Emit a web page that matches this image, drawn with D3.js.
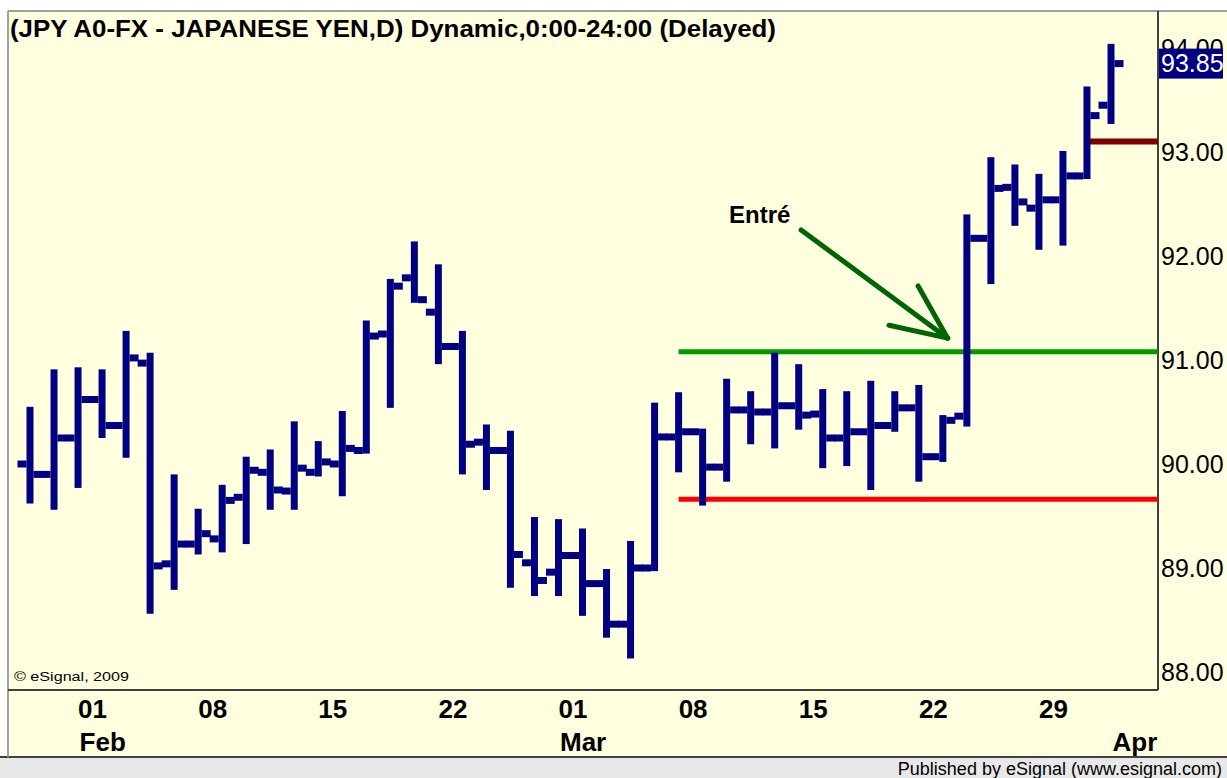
<!DOCTYPE html>
<html><head><meta charset="utf-8">
<script src="https://cdn.jsdelivr.net/npm/d3@7"></script>
<style>html,body{margin:0;padding:0;background:#fff;} svg{display:block}</style>
</head><body><svg id="c" width="1227" height="778"></svg>
<script>
// ---- data ----
const dates = ["2009-01-28","2009-01-29","2009-01-30",
 "2009-02-02","2009-02-03","2009-02-04","2009-02-05","2009-02-06",
 "2009-02-09","2009-02-10","2009-02-11","2009-02-12","2009-02-13",
 "2009-02-16","2009-02-17","2009-02-18","2009-02-19","2009-02-20",
 "2009-02-23","2009-02-24","2009-02-25","2009-02-26","2009-02-27",
 "2009-03-02","2009-03-03","2009-03-04","2009-03-05","2009-03-06",
 "2009-03-09","2009-03-10","2009-03-11","2009-03-12","2009-03-13",
 "2009-03-16","2009-03-17","2009-03-18","2009-03-19","2009-03-20",
 "2009-03-23","2009-03-24","2009-03-25","2009-03-26","2009-03-27",
 "2009-03-30","2009-03-31","2009-04-01"];
const openV  = [90.00,89.90,90.25,90.62,90.37,90.97,89.04,89.23,89.28,89.68,89.92,89.74,89.92,90.00,90.13,91.25,91.79,91.46,91.13,90.21,90.13,89.05,88.96,89.12,88.85,88.46,89.00,90.26,90.31,89.97,90.52,90.50,90.56,90.48,90.25,90.31,90.37,90.54,90.07,90.46,92.17,92.66,92.46,92.54,92.77,93.45];
const highV  = [90.55,90.91,90.93,90.91,91.28,91.07,89.90,89.57,89.80,90.07,90.14,90.41,90.22,90.51,91.38,91.78,92.14,91.92,91.28,90.38,90.32,89.49,89.47,89.38,88.99,89.26,90.59,90.69,90.34,90.82,90.70,91.07,90.96,90.72,90.70,90.80,90.70,90.76,90.47,92.40,92.95,92.88,92.79,93.01,93.63,94.04];
const lowV   = [89.62,89.56,89.77,90.25,90.06,88.56,88.79,89.13,89.15,89.23,89.56,89.56,89.88,89.69,90.10,90.54,91.55,90.96,89.90,89.75,88.81,88.73,88.73,88.54,88.33,88.13,88.97,89.92,89.60,89.83,90.19,90.15,90.33,89.96,89.98,89.75,90.31,89.83,90.02,90.36,91.73,92.29,92.06,92.10,92.74,93.27];
const closeV = [89.90,90.25,90.62,90.37,91.02,89.02,89.23,89.33,89.65,89.94,89.75,89.96,90.02,90.15,91.23,91.71,91.58,91.13,90.19,90.13,89.13,88.88,89.12,88.85,88.46,89.00,90.26,90.31,89.97,90.52,90.50,90.56,90.47,90.25,90.31,90.37,90.54,90.07,90.42,92.17,92.65,92.52,92.54,92.77,93.35,93.85];
const priceTicks = [88,89,90,91,92,93,94];
const dayTickPos = [2.5,7.5,12.5,17.5,22.5,27.5,32.5,37.5,42.5];
const dayTickLabels = ["01","08","15","22","01","08","15","22","29"];
const monthTickPos = [2.5,22.5,45.5];
const monthTickLabels = ["Feb","Mar","Apr"];
const levelValues = [91.08, 89.66, 93.10];
const levelStartIdx = [27, 27, 44];
const lastPrice = 93.85;
const titleText = "(JPY A0-FX - JAPANESE YEN,D) Dynamic,0:00-24:00 (Delayed)";
const noteText = "Entré";
const noteArrow = [[32.1, 92.25],[38.2, 91.21]]; // [index, price]
const noteLabelAt = [29.1, 92.32];

// ---- layout ----
const svg = d3.select("#c");
const FONT = "'Liberation Sans', Arial, sans-serif";
const plot = {left: 8, top: 11, right: 1158, bottom: 690};
const x = d3.scaleLinear().domain([0, 45]).range([30, 1111]);
const y = d3.scaleLinear().domain([88, 94]).range([672, 48]);
const navy = "#000080";

// backgrounds
svg.append("rect").attr("x",0).attr("y",0).attr("width",1227).attr("height",778).attr("fill","#ffffff");
svg.append("rect").attr("x",plot.left).attr("y",plot.top).attr("width",1227-plot.left).attr("height",757-plot.top).attr("fill","#FFFFE0");
svg.append("rect").attr("x",0).attr("y",757).attr("width",1227).attr("height",21).attr("fill","#E8E8E8");
svg.append("line").attr("x1",0).attr("x2",1227).attr("y1",757).attr("y2",757).attr("stroke","#404040").attr("stroke-width",2);
svg.append("line").attr("x1",plot.left).attr("x2",1227).attr("y1",plot.top).attr("y2",plot.top).attr("stroke","#A0A0A0").attr("stroke-width",2);
svg.append("line").attr("x1",plot.left).attr("x2",plot.left).attr("y1",plot.top).attr("y2",757).attr("stroke","#A0A0A0").attr("stroke-width",2);
svg.append("line").attr("x1",plot.right).attr("x2",plot.right).attr("y1",plot.top).attr("y2",plot.bottom).attr("stroke","#404040").attr("stroke-width",2);
svg.append("line").attr("x1",plot.left).attr("x2",plot.right).attr("y1",plot.bottom).attr("y2",plot.bottom).attr("stroke","#404040").attr("stroke-width",2);

// title
svg.append("text").attr("x",10).attr("y",37).attr("font-family",FONT).attr("font-weight","bold")
  .attr("font-size",24).attr("textLength",766).attr("lengthAdjust","spacingAndGlyphs").attr("fill","#000").text(titleText);

// copyright
svg.append("text").attr("x",14).attr("y",681).attr("font-family",FONT).attr("font-size",12)
  .attr("textLength",115).attr("lengthAdjust","spacingAndGlyphs").attr("fill","#000").text("© eSignal, 2009");

// footer
svg.append("text").attr("x",1222).attr("y",775).attr("text-anchor","end").attr("font-family",FONT).attr("font-size",18)
  .attr("fill","#000").text("Published by eSignal (www.esignal.com)");

// level lines
const levelColors = ["#009900","#FF0000","#800000"];
const levelWidths = [5,5,6];
levelValues.forEach((v,k)=>{
  svg.append("line").attr("x1",x(levelStartIdx[k])).attr("x2",plot.right).attr("y1",y(v)).attr("y2",y(v))
    .attr("stroke",levelColors[k]).attr("stroke-width",levelWidths[k]);
});

// OHLC bars
const bars = dates.map((d,i)=>({i, o:openV[i], h:highV[i], l:lowV[i], c:closeV[i]}));
const g = svg.append("g");
const sw = 7, tl = 9, th = 7;
g.selectAll("rect.stem").data(bars).join("rect").attr("class","stem")
  .attr("x",d=>x(d.i)-sw/2).attr("width",sw).attr("y",d=>y(d.h)).attr("height",d=>y(d.l)-y(d.h)).attr("fill",navy);
g.selectAll("rect.op").data(bars).join("rect").attr("class","op")
  .attr("x",d=>x(d.i)-sw/2-tl).attr("width",tl).attr("y",d=>y(d.o)-th/2).attr("height",th).attr("fill",navy);
g.selectAll("rect.cl").data(bars).join("rect").attr("class","cl")
  .attr("x",d=>x(d.i)+sw/2).attr("width",tl).attr("y",d=>y(d.c)-th/2).attr("height",th).attr("fill",navy);

// right axis (top label partly covered by the last-price box, as in the original)
svg.append("clipPath").attr("id","axclip").append("rect")
  .attr("x",plot.right).attr("y",y(lastPrice)-15 - 0).attr("width",80).attr("height",0);
const yAxis = d3.axisRight(y).tickValues(priceTicks).tickFormat(d3.format(".2f")).tickSize(0).tickPadding(3);
const ya = svg.append("g").attr("transform",`translate(${plot.right},0)`).call(yAxis);
ya.select(".domain").remove();
ya.selectAll("text").attr("font-family",FONT).attr("font-size",25).attr("fill","#000").attr("dy","0.35em");

// last price box
const lp = svg.append("g");
lp.append("rect").attr("x",plot.right+1).attr("y",y(lastPrice)-15).attr("width",64).attr("height",30).attr("fill",navy);
lp.append("text").attr("x",plot.right+3).attr("y",y(lastPrice)).attr("dy","0.35em").attr("font-family",FONT)
  .attr("font-size",25).attr("fill","#fff").text(lastPrice.toFixed(2));

// bottom axis
const xDay = d3.axisBottom(x).tickValues(dayTickPos).tickFormat((d,i)=>dayTickLabels[i]).tickSize(0).tickPadding(0);
const xa = svg.append("g").attr("transform",`translate(0,${plot.bottom})`).call(xDay);
xa.select(".domain").remove();
xa.selectAll("text").attr("font-family",FONT).attr("font-weight","bold").attr("font-size",26)
  .attr("fill","#000").attr("y",28).attr("dy",0).attr("dx",2);
const xMonth = d3.axisBottom(x).tickValues(monthTickPos).tickFormat((d,i)=>monthTickLabels[i]).tickSize(0).tickPadding(0);
const xm = svg.append("g").attr("transform",`translate(0,${plot.bottom})`).call(xMonth);
xm.select(".domain").remove();
xm.selectAll("text").attr("font-family",FONT).attr("font-weight","bold").attr("font-size",26)
  .attr("fill","#000").attr("text-anchor","start").attr("y",61).attr("dy",0).attr("x",-11);

// annotation
const ag = svg.append("g").attr("stroke","#006400").attr("stroke-width",5).attr("stroke-linecap","round").attr("fill","none");
const [t0, t1] = noteArrow.map(p=>[x(p[0]), y(p[1])]);
ag.append("line").attr("x1",t0[0]).attr("y1",t0[1]).attr("x2",t1[0]).attr("y2",t1[1]);
const ang = Math.atan2(t0[1]-t1[1], t0[0]-t1[0]);
[-0.42, 0.42].forEach(a=>{
  ag.append("line").attr("x1",t1[0]).attr("y1",t1[1])
    .attr("x2",t1[0]+60*Math.cos(ang+a)).attr("y2",t1[1]+60*Math.sin(ang+a));
});
svg.append("text").attr("x",x(noteLabelAt[0])).attr("y",y(noteLabelAt[1])).attr("font-family",FONT)
  .attr("font-weight","bold").attr("font-size",24).attr("fill","#000").text(noteText);
</script></body></html>
